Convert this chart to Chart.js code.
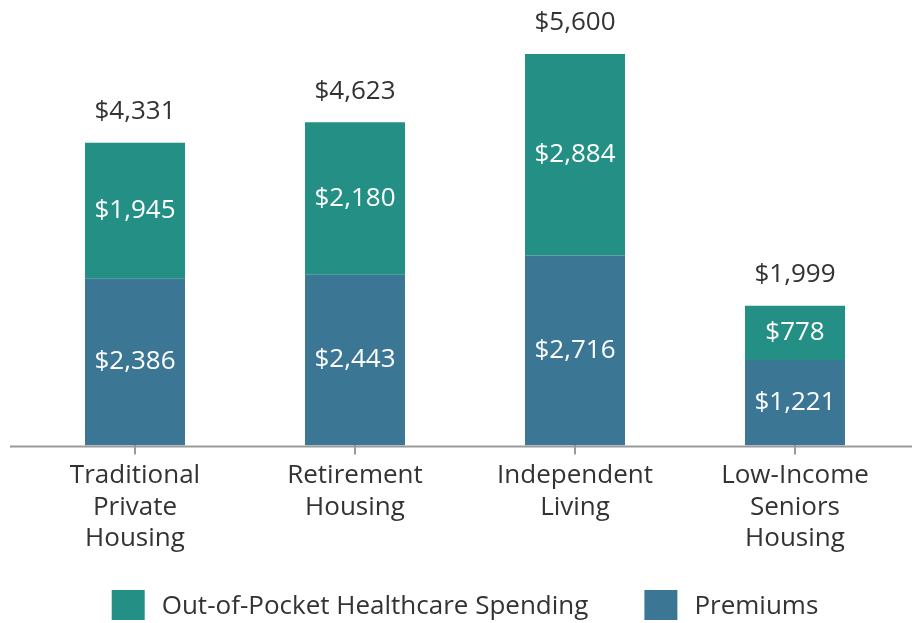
<!DOCTYPE html>
<html lang="en">
<head>
  <meta charset="UTF-8">
  <title>Healthcare Spending by Housing Type</title>
  <script src="https://cdn.jsdelivr.net/npm/chart.js"></script>
  <style>
    html, body {
      margin: 0;
      padding: 0;
      background: #fff;
    }
    #chart-container {
      width: 912px;
      height: 623px;
    }
  </style>
</head>
<body>
  <div id="chart-container">
    <canvas id="spendingChart"></canvas>
  </div>

  <script>
    // Data
    const categories = [
      ["Traditional", "Private", "Housing"],
      ["Retirement", "Housing"],
      ["Independent", "Living"],
      ["Low-Income", "Seniors", "Housing"]
    ];
    const premiums = [2386, 2443, 2716, 1221];
    const outOfPocket = [1945, 2180, 2884, 778];
    const totals = [4331, 4623, 5600, 1999];

    const tealColor = "#238f85";
    const blueColor = "#3b7794";
    const textColor = "#333333";
    const fontFamily = "'Open Sans', sans-serif";

    const fmt = v => "$" + v.toLocaleString("en-US");

    // Draws the value labels inside the segments and the totals on top
    const valueLabels = {
      id: "valueLabels",
      afterDatasetsDraw(chart) {
        const ctx = chart.ctx;
        ctx.save();
        ctx.font = "26px " + fontFamily;
        ctx.textAlign = "center";
        ctx.textBaseline = "middle";

        chart.data.datasets.forEach((ds, i) => {
          const meta = chart.getDatasetMeta(i);
          meta.data.forEach((bar, j) => {
            ctx.fillStyle = "#ffffff";
            ctx.fillText(fmt(ds.data[j]), bar.x, (bar.y + bar.base) / 2);
          });
        });

        // totals above the top segment
        const topMeta = chart.getDatasetMeta(chart.data.datasets.length - 1);
        topMeta.data.forEach((bar, j) => {
          ctx.fillStyle = textColor;
          ctx.fillText(fmt(totals[j]), bar.x, bar.y - 31);
        });
        ctx.restore();
      }
    };

    // Baseline running the full width of the canvas
    const baseline = {
      id: "baseline",
      afterDatasetsDraw(chart) {
        const ctx = chart.ctx;
        const y = chart.scales.y.getPixelForValue(0);
        ctx.save();
        ctx.strokeStyle = "#9a9a9a";
        ctx.lineWidth = 2;
        ctx.beginPath();
        ctx.moveTo(10, y + 1);
        ctx.lineTo(chart.width, y + 1);
        ctx.stroke();
        ctx.restore();
      }
    };

    // Legend drawn by hand so the gap between the two items can be wider
    // than the built-in legend allows without pushing it upward
    const bottomLegend = {
      id: "bottomLegend",
      afterDraw(chart) {
        const ctx = chart.ctx;
        const boxW = 33, boxH = 30, textGap = 17, itemGap = 56;
        const items = chart.data.datasets.slice().reverse();
        ctx.save();
        ctx.font = "26px " + fontFamily;
        ctx.textBaseline = "middle";
        const widths = items.map(ds => boxW + textGap + ctx.measureText(ds.label).width);
        const total = widths.reduce((a, b) => a + b, 0) + itemGap * (items.length - 1);
        const centerX = (chart.chartArea.left + chart.chartArea.right) / 2;
        const boxTop = chart.height - 33;
        let x = centerX - total / 2;
        items.forEach((ds, i) => {
          ctx.fillStyle = ds.backgroundColor;
          ctx.fillRect(x, boxTop, boxW, boxH);
          ctx.fillStyle = textColor;
          ctx.fillText(ds.label, x + boxW + textGap, boxTop + boxH / 2 + 2);
          x += widths[i] + itemGap;
        });
        ctx.restore();
      }
    };

    const ctx = document.getElementById("spendingChart").getContext("2d");

    new Chart(ctx, {
      type: "bar",
      data: {
        labels: categories,
        datasets: [
          {
            label: "Premiums",
            data: premiums,
            backgroundColor: blueColor,
            borderWidth: 0
          },
          {
            label: "Out-of-Pocket Healthcare Spending",
            data: outOfPocket,
            backgroundColor: tealColor,
            borderWidth: 0
          }
        ]
      },
      options: {
        responsive: true,
        maintainAspectRatio: false,
        animation: false,
        events: [],
        layout: {
          padding: { top: 54, left: 25, right: 7, bottom: 63 }
        },
        datasets: {
          bar: {
            categoryPercentage: 1,
            barPercentage: 100 / 220
          }
        },
        scales: {
          x: {
            stacked: true,
            grid: {
              display: true,
              drawOnChartArea: false,
              drawTicks: true,
              tickLength: 9,
              offset: false,
              color: "#9a9a9a",
              lineWidth: 2
            },
            border: { display: false },
            ticks: {
              color: textColor,
              padding: 6,
              font: { family: fontFamily, size: 26, lineHeight: 1.2 },
              maxRotation: 0,
              autoSkip: false
            }
          },
          y: {
            stacked: true,
            display: false,
            min: 0,
            max: 5600
          }
        },
        plugins: {
          legend: { display: false },
          tooltip: { enabled: false }
        }
      },
      plugins: [valueLabels, baseline, bottomLegend]
    });
  </script>
</body>
</html>
